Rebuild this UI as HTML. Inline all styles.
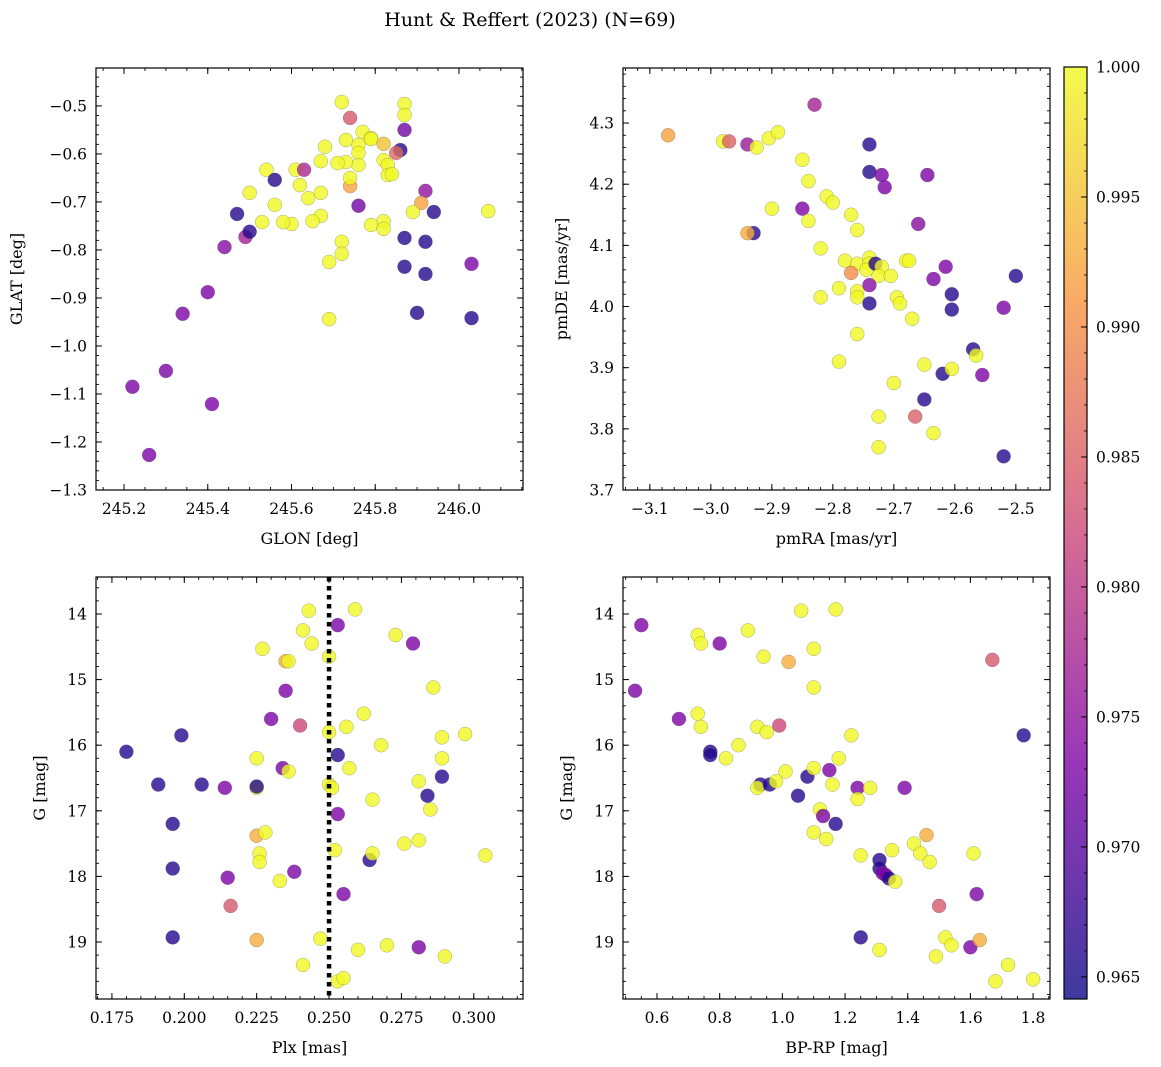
<!DOCTYPE html>
<html><head><meta charset="utf-8"><style>
html,body{margin:0;padding:0;background:#fff;}
svg{display:block;font-family:"DejaVu Serif","Liberation Serif",serif;}
</style></head><body>
<svg id="fig" width="1161" height="1067" viewBox="0 0 1161 1067" xmlns="http://www.w3.org/2000/svg">
<text x="530" y="26" font-size="19" text-anchor="middle">Hunt &amp; Reffert (2023) (N=69)</text>
</svg>
<script>
// ---- Panel 1: GLON / GLAT ----
const glon1 = [245.72,245.74,245.87,245.87,245.87,245.77,245.79,245.76,245.79,245.73,245.82,245.68,245.86,245.85,245.76,245.76,245.82,245.83,245.83,245.84,245.73,245.67,245.71,245.61,245.63,245.54,245.62,245.67,245.92,245.74,245.50,245.74,245.64,245.91,245.56,245.67,245.76,245.89,245.94,245.47,245.56,245.82,245.65,245.49,245.50,245.53,245.60,245.58,245.79,245.82,245.87,245.92,245.72,245.44,245.72,245.69,246.03,245.87,245.92,245.40,245.69,245.90,246.03,245.34,245.30,245.22,245.41,245.26,246.07];
const glat1 = [-0.492,-0.525,-0.496,-0.519,-0.55,-0.554,-0.567,-0.581,-0.569,-0.571,-0.579,-0.585,-0.592,-0.598,-0.598,-0.623,-0.613,-0.623,-0.644,-0.642,-0.617,-0.615,-0.619,-0.633,-0.633,-0.633,-0.665,-0.681,-0.677,-0.667,-0.681,-0.65,-0.692,-0.702,-0.654,-0.729,-0.708,-0.721,-0.721,-0.725,-0.706,-0.74,-0.74,-0.773,-0.762,-0.742,-0.746,-0.742,-0.748,-0.756,-0.775,-0.783,-0.783,-0.794,-0.808,-0.825,-0.829,-0.835,-0.85,-0.888,-0.944,-0.931,-0.942,-0.933,-1.052,-1.085,-1.121,-1.227,-0.719];
const prob1 = [1,0.984,1,1,0.972,1,1,1,1,1,0.995,1,0.966,0.986,1,1,1,1,1,1,1,1,1,1,0.978,1,1,1,0.975,0.992,1,1,1,0.992,0.966,1,0.972,1,0.966,0.966,1,1,1,0.977,0.966,1,1,1,1,1,0.966,0.966,1,0.974,1,1,0.973,0.966,0.966,0.973,1,0.966,0.966,0.973,0.973,0.973,0.973,0.973,1];
// ---- Panel 2: pmRA / pmDE ----
const pmra2 = [-3.07,-2.98,-2.97,-2.94,-2.925,-2.905,-2.89,-2.83,-2.85,-2.84,-2.81,-2.80,-2.85,-2.90,-2.93,-2.94,-2.84,-2.82,-2.77,-2.76,-2.74,-2.74,-2.72,-2.715,-2.645,-2.66,-2.78,-2.76,-2.77,-2.74,-2.74,-2.745,-2.73,-2.72,-2.725,-2.705,-2.68,-2.675,-2.79,-2.82,-2.76,-2.76,-2.74,-2.74,-2.695,-2.69,-2.67,-2.635,-2.615,-2.605,-2.605,-2.50,-2.52,-2.76,-2.79,-2.70,-2.65,-2.62,-2.605,-2.57,-2.565,-2.555,-2.65,-2.725,-2.665,-2.635,-2.725,-2.52];
const pmde2 = [4.28,4.27,4.27,4.265,4.26,4.275,4.285,4.33,4.24,4.205,4.18,4.17,4.16,4.16,4.12,4.12,4.14,4.095,4.15,4.125,4.265,4.22,4.215,4.195,4.215,4.135,4.075,4.07,4.055,4.08,4.07,4.06,4.07,4.065,4.05,4.05,4.075,4.075,4.03,4.015,4.025,4.015,4.035,4.005,4.015,4.005,3.98,4.045,4.065,4.02,3.995,4.05,3.998,3.955,3.91,3.875,3.905,3.89,3.898,3.93,3.92,3.888,3.848,3.82,3.82,3.793,3.77,3.755];
const prob2 = [0.992,1,0.985,0.976,1,1,1,0.977,1,1,1,1,0.973,1,0.966,0.993,1,1,1,1,0.966,0.966,0.973,0.973,0.973,0.974,1,1,0.99,1,1,1,0.966,1,1,1,1,1,1,1,1,1,0.974,0.966,1,1,1,0.973,0.973,0.966,0.966,0.966,0.973,1,1,1,1,0.966,1,0.966,1,0.973,0.966,1,0.985,1,1,0.966];
// ---- Panel 3: Plx / G ----
const plx3 = [0.18,0.191,0.196,0.196,0.196,0.199,0.206,0.214,0.215,0.216,0.225,0.225,0.225,0.225,0.226,0.226,0.228,0.225,0.227,0.23,0.234,0.235,0.236,0.235,0.236,0.233,0.238,0.24,0.241,0.243,0.244,0.241,0.247,0.25,0.25,0.25,0.251,0.252,0.253,0.253,0.253,0.253,0.255,0.255,0.256,0.257,0.259,0.26,0.262,0.264,0.265,0.265,0.268,0.27,0.273,0.276,0.279,0.281,0.281,0.281,0.284,0.285,0.286,0.289,0.289,0.289,0.29,0.297,0.304];
const g3 = [16.1,16.6,17.2,17.88,18.93,15.85,16.6,16.65,18.02,18.45,16.2,16.65,16.63,17.38,17.65,17.78,17.33,18.97,14.53,15.6,16.35,14.72,14.72,15.17,16.4,18.07,17.93,15.7,14.25,13.95,14.45,19.35,18.95,14.65,15.8,16.6,16.65,17.6,14.17,16.15,17.05,19.6,19.55,18.27,15.72,16.35,13.93,19.12,15.52,17.75,17.65,16.83,16.0,19.05,14.32,17.5,14.45,19.08,17.45,16.55,16.77,16.98,15.12,15.88,16.2,16.48,19.22,15.83,17.68];
const prob3 = [0.966,0.966,0.966,0.966,0.966,0.966,0.966,0.973,0.973,0.984,1,1,0.966,0.993,1,1,1,0.993,1,0.973,0.973,0.993,1,0.973,1,1,0.973,0.982,1,1,1,1,1,1,1,1,1,1,0.973,0.966,0.973,1,1,0.973,1,1,1,1,1,0.966,1,1,1,1,1,1,0.973,0.973,1,1,0.966,1,1,1,1,0.966,1,1,1];
// ---- Panel 4: BP-RP / G ----
const bprp4 = [0.55,0.53,0.67,0.73,0.74,0.73,0.74,0.77,0.77,0.80,0.82,0.86,0.89,0.93,0.92,0.96,0.98,0.92,0.95,0.94,0.99,1.01,1.02,1.05,1.06,1.08,1.10,1.10,1.10,1.10,1.12,1.13,1.14,1.15,1.16,1.17,1.17,1.18,1.22,1.24,1.24,1.28,1.25,1.25,1.31,1.31,1.32,1.33,1.34,1.31,1.35,1.36,1.39,1.42,1.44,1.46,1.47,1.49,1.50,1.52,1.54,1.60,1.61,1.62,1.63,1.67,1.68,1.72,1.77,1.80];
const g4 = [14.17,15.17,15.6,14.32,14.45,15.52,15.72,16.1,16.15,14.45,16.2,16.0,14.25,16.6,16.65,16.6,16.55,15.72,15.8,14.65,15.7,16.4,14.73,16.77,13.95,16.48,16.35,14.53,15.12,17.33,16.98,17.08,17.43,16.38,16.6,13.93,17.2,16.2,15.85,16.65,16.82,16.65,17.68,18.93,17.75,17.88,17.95,17.98,18.03,19.12,17.6,18.08,16.65,17.5,17.65,17.37,17.78,19.22,18.45,18.93,19.05,19.08,17.65,18.27,18.97,14.7,19.6,19.35,15.85,19.57];
const prob4 = [0.973,0.973,0.973,1,1,1,1,0.966,0.966,0.973,1,1,1,0.966,1,0.966,1,1,1,1,0.982,1,0.993,0.966,1,0.966,1,1,1,1,1,0.973,1,0.973,1,1,0.966,1,1,0.973,1,1,1,0.966,0.966,0.966,0.973,0.973,0.966,1,1,1,0.973,1,1,0.993,1,1,0.984,1,1,0.973,1,0.973,0.993,0.984,1,1,0.966,1];
// ---- colorbar ticks ----
const cbTicks = [0.965,0.970,0.975,0.980,0.985,0.990,0.995,1.000];
const PMIN = 0.96415, PMAX = 1.0;

const NS = "http://www.w3.org/2000/svg";
const svg = document.getElementById('fig');
function mk(tag, attrs, parent){ const e=document.createElementNS(NS,tag); for(const k in attrs) e.setAttribute(k,attrs[k]); (parent||svg).appendChild(e); return e; }
const stops=[[0,[13,8,135]],[0.25,[126,3,168]],[0.5,[204,71,120]],[0.75,[248,149,64]],[1,[240,249,33]]];
function plasma(t){ t=Math.max(0,Math.min(1,t)); for(let i=0;i<stops.length-1;i++){ const a=stops[i],b=stops[i+1]; if(t<=b[0]){ const f=(t-a[0])/(b[0]-a[0]); const c=a[1].map((v,j)=>Math.round(v+(b[1][j]-v)*f)); return `rgb(${c[0]},${c[1]},${c[2]})`; } } return 'rgb(240,249,33)'; }
function fmtNum(v,d){ const s=Math.abs(v).toFixed(d); return (v<-1e-9?'\u2212':'')+s; }

function panel(cfg){
  const {L,T,R,B,x0,x1,y0,y1,name}=cfg;
  const sx=v=>L+(v-x0)/(x1-x0)*(R-L);
  const sy=v=>B-(v-y0)/(y1-y0)*(B-T);
  const g=mk('g',{});
  
  
  // points
  const pg=mk('g',{},g);
  
  
  for(let i=0;i<cfg.xs.length;i++){
    const c=mk('circle',{cx:sx(cfg.xs[i]),cy:sy(cfg.ys[i]),r:7,fill:plasma((cfg.ps[i]-PMIN)/(PMAX-PMIN)),'fill-opacity':0.8,stroke:'#555','stroke-opacity':0.5,'stroke-width':0.5},pg);
    
    
  }
  if(cfg.vline!==undefined){
    const l=mk('line',{x1:sx(cfg.vline),x2:sx(cfg.vline),y1:T,y2:B,stroke:'#000','stroke-width':4.5,'stroke-dasharray':'4.5 4.5'},g);
    
    
  }
  // box
  const box=mk('rect',{x:L,y:T,width:R-L,height:B-T,fill:'none',stroke:'#000','stroke-width':1.2},g);
  
  
  // ticks
  const lo=Math.min(x0,x1),hi=Math.max(x0,x1);
  for(let k=Math.ceil(lo/cfg.xmin-1e-6);k*cfg.xmin<=hi+1e-9;k++){ const v=k*cfg.xmin; const X=sx(v); mk('line',{x1:X,x2:X,y1:B,y2:B-3,stroke:'#000','stroke-width':0.9},g); mk('line',{x1:X,x2:X,y1:T,y2:T+3,stroke:'#000','stroke-width':0.9},g); }
  const ylo=Math.min(y0,y1),yhi=Math.max(y0,y1);
  for(let k=Math.ceil(ylo/cfg.ymin-1e-6);k*cfg.ymin<=yhi+1e-9;k++){ const v=k*cfg.ymin; const Y=sy(v); mk('line',{x1:L,x2:L+3,y1:Y,y2:Y,stroke:'#000','stroke-width':0.9},g); mk('line',{x1:R,x2:R-3,y1:Y,y2:Y,stroke:'#000','stroke-width':0.9},g); }
  cfg.xt.forEach(v=>{ const X=sx(v); mk('line',{x1:X,x2:X,y1:B,y2:B-6,stroke:'#000','stroke-width':1},g); mk('line',{x1:X,x2:X,y1:T,y2:T+6,stroke:'#000','stroke-width':1},g);
    const t=mk('text',{x:X,y:B+24,'font-size':15.5,'text-anchor':'middle'},g); t.textContent=fmtNum(v,cfg.xd);
    
     });
  cfg.yt.forEach(v=>{ const Y=sy(v); mk('line',{x1:L,x2:L+6,y1:Y,y2:Y,stroke:'#000','stroke-width':1},g); mk('line',{x1:R,x2:R-6,y1:Y,y2:Y,stroke:'#000','stroke-width':1},g);
    const t=mk('text',{x:L-9,y:Y+5.5,'font-size':15.5,'text-anchor':'end'},g); t.textContent=fmtNum(v,cfg.yd);
    
     });
  const xl=mk('text',{x:(L+R)/2,y:B+54,'font-size':16,'text-anchor':'middle'},g); xl.textContent=cfg.xlabel;
  
  
  const yl=mk('text',{x:cfg.ylx,y:(T+B)/2,'font-size':16,'text-anchor':'middle',transform:`rotate(-90 ${cfg.ylx} ${(T+B)/2})`},g); yl.textContent=cfg.ylabel;
  
  
}
const rng=(a,b,s)=>{const r=[];for(let v=a;v<=b+1e-9;v+=s)r.push(+v.toFixed(4));return r;};
panel({name:'glon-glat',L:96,T:68,R:523,B:490,x0:245.133,x1:246.153,y0:-1.3,y1:-0.421,xs:glon1,ys:glat1,ps:prob1,xt:rng(245.2,246.0,0.2),xd:1,yt:rng(-1.3,-0.5,0.1),yd:1,xmin:0.05,ymin:0.02,xlabel:'GLON [deg]',ylabel:'GLAT [deg]',ylx:22});
panel({name:'pm',L:623,T:68,R:1050,B:490,x0:-3.144,x1:-2.444,y0:3.7,y1:4.39,xs:pmra2,ys:pmde2,ps:prob2,xt:rng(-3.1,-2.5,0.1),xd:1,yt:rng(3.7,4.3,0.1),yd:1,xmin:0.02,ymin:0.02,xlabel:'pmRA [mas/yr]',ylabel:'pmDE [mas/yr]',ylx:567});
panel({name:'plx-g',L:96,T:577,R:523,B:999,x0:0.1695,x1:0.317,y0:19.869,y1:13.436,xs:plx3,ys:g3,ps:prob3,xt:rng(0.175,0.3,0.025),xd:3,yt:rng(14,19,1),yd:0,xmin:0.005,ymin:0.2,xlabel:'Plx [mas]',ylabel:'G [mag]',ylx:45,vline:0.25});
panel({name:'cmd',L:623,T:577,R:1050,B:999,x0:0.4915,x1:1.854,y0:19.869,y1:13.436,xs:bprp4,ys:g4,ps:prob4,xt:rng(0.6,1.8,0.2),xd:1,yt:rng(14,19,1),yd:0,xmin:0.05,ymin:0.2,xlabel:'BP-RP [mag]',ylabel:'G [mag]',ylx:572});
// colorbar
const defs=mk('defs',{}); const lg=mk('linearGradient',{id:'cbg',x1:0,y1:1,x2:0,y2:0},defs);
for(let i=0;i<=20;i++){ const c=plasma(i/20); mk('stop',{offset:i/20,'stop-color':c},lg); }
const cbT=67,cbB=999,cbL=1064,cbR=1087;
const cb=mk('g',{});  
mk('rect',{x:cbL,y:cbT,width:cbR-cbL,height:cbB-cbT,fill:'url(#cbg)','fill-opacity':0.8},cb);
mk('rect',{x:cbL,y:cbT,width:cbR-cbL,height:cbB-cbT,fill:'none',stroke:'#000','stroke-width':1.2},cb);
const cy=v=>cbB-(v-PMIN)/(PMAX-PMIN)*(cbB-cbT);
for(let v=0.965;v<=1.0001;v+=0.001){ const Y=cy(v); mk('line',{x1:cbR,x2:cbR-3,y1:Y,y2:Y,stroke:'#000','stroke-width':0.8},cb); }
cbTicks.forEach(v=>{ const Y=cy(v); mk('line',{x1:cbR,x2:cbR-6,y1:Y,y2:Y,stroke:'#000','stroke-width':1},cb);
  const t=mk('text',{x:1096,y:Y+5.5,'font-size':15.5},cb); t.textContent=v.toFixed(3);
  
   });
</script>
</body></html>
